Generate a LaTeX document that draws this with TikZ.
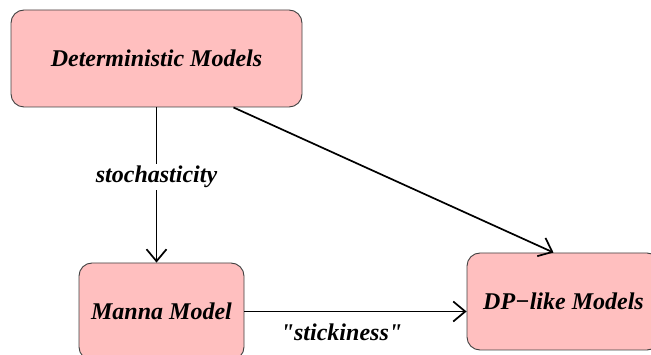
\documentclass[tikz,border=0pt]{standalone}
\usepackage{fontspec}
\setmainfont{Liberation Serif}
\newfontfamily\quotefont{Liberation Serif}[Ligatures=TeXOff]
\usetikzlibrary{arrows.meta, positioning}

\begin{document}
\begin{tikzpicture}
  [x=1pt, y=-1pt,
   model/.style={rectangle, rounded corners=13pt, draw=black!75, fill=red!25,
     line width=0.9pt, minimum height=97pt, inner sep=0pt,
     font=\fontsize{24}{28}\selectfont\bfseries\itshape},
   link/.style={line width=1.7pt, -{Straight Barb[length=12pt, width=20pt, line width=1.7pt]}},
   lbl/.style={font=\fontsize{24}{28}\selectfont\bfseries\itshape, inner sep=2pt}]
  \useasboundingbox (0,0) rectangle (651,355);
  \node (det) at (156.5, 58.5) [model, minimum width=291pt] {Deterministic Models};
  \node (manna) at (161.5, 311.5) [model, minimum width=165pt] {Manna Model};
  \node (dp) at (563.5, 301.5) [model, minimum width=193pt] {DP−like Models};
  \draw [link] (det.south) -- node [lbl, fill=white, pos=0.45] {stochasticity} (det.south |- manna.north);
  \draw [link] ([xshift=77pt]det.south) -- ([xshift=-10pt]dp.north);
  \draw [link] (manna.east) -- node [lbl, below=9pt, xshift=-14pt] {\quotefont"stickiness"} (manna.east -| dp.west);
\end{tikzpicture}
\end{document}
